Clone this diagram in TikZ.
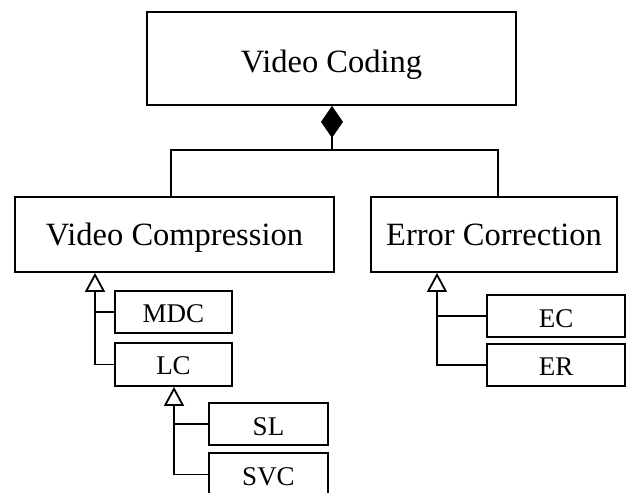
\documentclass[tikz,border=0pt]{standalone}
\usepackage{fontspec}
\setmainfont{Liberation Serif}
\usetikzlibrary{arrows.meta}
\newcommand{\lowered}[2]{\raisebox{-#1pt}[0pt][0pt]{#2}}
\begin{document}
\begin{tikzpicture}[x=1pt,y=-1pt,
  box/.style={draw=black,line width=1.8pt,fill=white,inner sep=0pt,anchor=center},
  big/.style={box,font=\fontsize{32.5}{38}\selectfont},
  small/.style={box,font=\fontsize{27}{32}\selectfont},
  link/.style={line width=1.8pt,draw=black},
  gen/.style={link,-{Triangle[open,length=19pt,width=20pt,line width=1.8pt]}},
  comp/.style={link,-{Diamond[length=32pt,width=22pt]}}]
\useasboundingbox (0,0) rectangle (627,493);
\clip (0,0) rectangle (627,493);
\node[big,minimum width=369pt,minimum height=93pt] (vc) at (331.5,58.5) {\lowered{13.5}{Video Coding}};
\node[big,minimum width=319pt,minimum height=75pt] (comp) at (174.5,234.5) {\lowered{10.5}{Video Compression}};
\node[big,minimum width=246pt,minimum height=75pt] (err) at (494,234.5) {\lowered{10.5}{Error Correction}};
\node[small,minimum width=117pt,minimum height=42pt] (mdc) at (173.5,312) {\lowered{10}{MDC}};
\node[small,minimum width=117pt,minimum height=43pt] (lc) at (173.5,364.5) {\lowered{9.5}{LC}};
\node[small,minimum width=119pt,minimum height=42pt] (sl) at (268.5,424) {\lowered{11.5}{SL}};
\node[small,minimum width=119pt,minimum height=43pt] (svc) at (268.5,474.5) {\lowered{10.5}{SVC}};
\node[small,minimum width=138pt,minimum height=42pt] (ec) at (556,316) {\lowered{11}{EC}};
\node[small,minimum width=138pt,minimum height=42pt] (er) at (556,365) {\lowered{10}{ER}};
\coordinate (j) at (332,150);
\draw[comp] (j) -- (332,0 |- vc.south);
\draw[link] (171,0 |- comp.north) |- (j) -| (498,0 |- err.north);
\draw[gen] (lc.west) -| (95,0 |- comp.south);
\draw[link] (mdc.west) -- (95,0 |- mdc.west);
\draw[gen] (svc.west) -| (174,0 |- lc.south);
\draw[link] (sl.west) -- (174,0 |- sl.west);
\draw[gen] (er.west) -| (437,0 |- err.south);
\draw[link] (ec.west) -- (437,0 |- ec.west);
\end{tikzpicture}
\end{document}
